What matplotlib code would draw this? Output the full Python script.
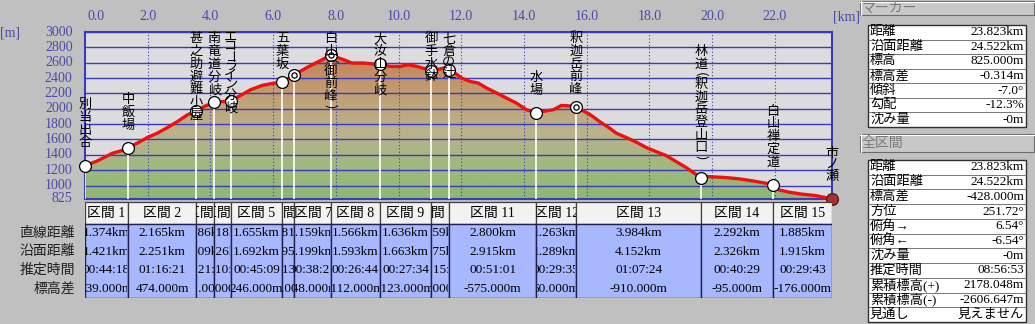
import numpy as np
import matplotlib
matplotlib.use('Agg')
import matplotlib.pyplot as plt
from matplotlib.patches import Rectangle, Polygon
from matplotlib.colors import LinearSegmentedColormap
from matplotlib.transforms import Bbox, TransformedBbox

plt.rcParams['font.family'] = ['Liberation Serif', 'Noto Sans CJK JP', 'DejaVu Sans']

# elevation profile (km, m)
prof_km = [0.00, 0.35, 0.61, 0.88, 1.15, 1.374, 1.73, 1.99, 2.31, 2.63, 2.95, 3.27, 3.539, 3.80,
           4.125, 4.43, 4.643, 4.96, 5.28, 5.65, 5.97, 6.298, 6.679, 7.08, 7.50, 7.838, 8.04, 8.25,
           8.51, 8.88, 9.20, 9.404, 9.73, 10.05, 10.31, 10.58, 10.85, 11.040, 11.22, 11.43, 11.599,
           11.80, 12.01, 12.28, 12.54, 12.81, 13.13, 13.44, 13.76, 14.08, 14.399, 14.72, 14.93,
           15.19, 15.40, 15.662, 15.88, 16.09, 16.41, 16.73, 16.94, 17.26, 17.58, 17.90, 18.21,
           18.53, 18.85, 19.17, 19.43, 19.646, 19.86, 20.44, 20.87, 21.29, 21.71, 21.938, 22.13,
           22.45, 22.87, 23.30, 23.823]
prof_m = [1260, 1313, 1365, 1422, 1452, 1492, 1566, 1626, 1683, 1756, 1834, 1922, 1966, 2030,
          2087, 2095, 2104, 2173, 2248, 2304, 2330, 2348, 2443, 2538, 2626, 2700, 2669, 2639,
          2596, 2596, 2583, 2583, 2552, 2552, 2574, 2552, 2521, 2486, 2508, 2530, 2508,
          2465, 2400, 2356, 2335, 2270, 2205, 2140, 2074, 1987, 1944, 1974, 1987,
          2043, 2039, 2026, 1974, 1930, 1834, 1748, 1683, 1626, 1566, 1495, 1443,
          1391, 1313, 1235, 1161, 1104, 1117, 1104, 1087, 1061, 1031, 1009, 944,
          914, 888, 870, 825]

# sections
seg_direct = [1.374, 2.165, 0.586, 0.518, 1.655, 0.381, 1.159, 1.566, 1.636, 0.559, 2.800, 1.263, 3.984, 2.292, 1.885]
seg_surface = [1.421, 2.251, 0.609, 0.526, 1.692, 0.395, 1.199, 1.593, 1.663, 0.575, 2.915, 1.289, 4.152, 2.326, 1.915]
seg_time = ["00:44:18", "01:16:21", "00:21:10", "00:10:26", "00:45:09", "00:13:37", "00:38:25", "00:26:44",
            "00:27:34", "00:15:30", "00:51:01", "00:29:35", "01:07:24", "00:40:29", "00:29:43"]
seg_elev = [239, 474, 121, 17, 246, 104, 248, -112, -123, 54, -575, 60, -910, -95, -176]
row_names = ["直線距離", "沿面距離", "推定時間", "標高差"]

# waypoints
wp_names = ["別当出合", "中飯場", "甚之助避難小屋", "南竜道分岐", "エコーライン分岐", "五葉坂", "",
            "白山(御前峰)", "大汝山分岐", "御手水鉢", "七倉の辻", "水場", "釈迦岳前峰",
            "林道(釈迦岳登山口)", "白山禅定道", "市ノ瀬"]
wp_m = [1260, 1492, 1966, 2087, 2104, 2348, 2443, 2700, 2583, 2486, 2508, 1944, 2026, 1104, 1009, 825]
wp_kind = ["o", "o", "o", "o", "o", "o", "dc", "dc", "o", "o", "o", "o", "dc", "o", "o", "end"]
wp_km = np.concatenate([[0.0], np.cumsum(seg_direct)])

x_ticks = [0, 2, 4, 6, 8, 10, 12, 14, 16, 18, 20, 22]
y_ticks = [825, 1000, 1200, 1400, 1600, 1800, 2000, 2200, 2400, 2600, 2800, 3000]

marker_rows = [("距離", "23.823km"), ("沿面距離", "24.522km"), ("標高", "825.000m"),
               ("標高差", "-0.314m"), ("傾斜", "-7.0°"), ("勾配", "-12.3%"), ("沈み量", "-0m")]
total_rows = [("距離", "23.823km"), ("沿面距離", "24.522km"), ("標高差", "-428.000m"),
              ("方位", "251.72°"), ("俯角→", "6.54°"), ("俯角←", "-6.54°"), ("沈み量", "-0m"),
              ("推定時間", "08:56:53"), ("累積標高(+)", "2178.048m"), ("累積標高(-)", "-2606.647m"),
              ("見通し", "見えません")]

W, H = 1035, 324
fig = plt.figure(figsize=(W / 100, H / 100), dpi=100)
fig.patch.set_facecolor('#c0c0c0')


def fx(px):
    return px / W


def fy(py):
    return 1 - py / H


total = wp_km[-1]
blue = '#3a3abe'

ax = fig.add_axes([fx(85), fy(199), fx(832) - fx(85), fy(32) - fy(199)])
ax.set_facecolor('#dcdcde')

# gradient fill under the profile
cmap = LinearSegmentedColormap.from_list('ground', [
    (0.0, '#8cb870'), (0.2, '#a2b880'), (0.4, '#bab28e'),
    (0.62, '#c0a074'), (0.82, '#c6865c'), (1.0, '#c87850')])
grad = np.linspace(0, 1, 256).reshape(-1, 1)
im = ax.imshow(grad, extent=[0, total, 825, 3000], origin='lower', aspect='auto', cmap=cmap, zorder=1)
poly = Polygon(list(zip([0] + prof_km + [total], [825] + prof_m + [825])), closed=True,
               facecolor='none', edgecolor='none')
ax.add_patch(poly)
im.set_clip_path(poly)

ax.set_xlim(0, total)
ax.set_ylim(825, 3000)

for e in y_ticks:
    ax.axhline(e, color=blue, lw=1, zorder=2)
for k in x_ticks[1:]:
    ax.axvline(k, color=blue, lw=0.8, ls=(0, (1, 2)), zorder=2)

ax.vlines(wp_km, 825, wp_m, color='white', lw=1.2, zorder=3)
ax.plot(prof_km, prof_m, color='#f01010', lw=2.4, zorder=4, solid_joinstyle='round')

for km, m, kind in zip(wp_km, wp_m, wp_kind):
    if kind == 'end':
        ax.plot(km, m, 'o', ms=8.5, mfc='#a83030', mec='#502020', mew=1, zorder=6, clip_on=False)
    else:
        ax.plot(km, m, 'o', ms=8.5, mfc='white', mec='black', mew=0.9, zorder=5, clip_on=False)
        if kind == 'dc':
            ax.plot(km, m, 'o', ms=3.8, mfc='white', mec='black', mew=0.9, zorder=6, clip_on=False)

ax.set_xticks([])
ax.set_yticks([])
for s in ax.spines.values():
    s.set_color(blue)
    s.set_linewidth(1.5)

tick_color = '#4a4aa8'
for e in y_ticks:
    ax.annotate(str(e), (0, e), xycoords=('axes fraction', 'data'), xytext=(-9, 0),
                textcoords='offset points', ha='right', va='center', fontsize=10,
                color=tick_color, annotation_clip=False)
for k in x_ticks:
    ax.annotate(f"{k:.1f}", (k, 1), xycoords=('data', 'axes fraction'),
                xytext=(2 if k == 0 else 0, 11.5), textcoords='offset points',
                ha='left' if k == 0 else 'center', va='center', fontsize=10,
                color=tick_color, annotation_clip=False)
fig.text(fx(10), fy(33), "[m]", ha='center', va='center', fontsize=10, color=tick_color)
fig.text(fx(846), fy(17), "[km]", ha='center', va='center', fontsize=10, color=tick_color)

# section table
tax = fig.add_axes([fx(85), fy(298), fx(832) - fx(85), fy(201) - fy(298)])
tax.set_xlim(0, total)
tax.set_ylim(97, 0)
tax.axis('off')
head_h = 23
row_h = (97 - head_h) / 4
for j in range(len(seg_direct)):
    x0, x1 = wp_km[j], wp_km[j + 1]
    tax.add_patch(Rectangle((x0, 1), x1 - x0, head_h - 1, facecolor='#f2f2f2',
                            edgecolor='#404040', lw=0.9))
    tax.add_patch(Rectangle((x0, head_h), x1 - x0, 97 - head_h, facecolor='#a8b8ff',
                            edgecolor='#202050', lw=1))
    hclip = TransformedBbox(Bbox([[x0, 1], [x1, head_h]]), tax.transData)
    t = tax.text((x0 + x1) / 2, head_h / 2 + 0.5, f"区間 {j + 1}", ha='center', va='center',
                 fontsize=10)
    t.set_clip_box(hclip)
    t.set_clip_on(True)
    cells = [f"{seg_direct[j]:.3f}km", f"{seg_surface[j]:.3f}km", seg_time[j], f"{seg_elev[j]:.3f}m"]
    dclip = TransformedBbox(Bbox([[x0 + 0.02, head_h], [x1 - 0.02, 97]]), tax.transData)
    for r, txt in enumerate(cells):
        t = tax.text((x0 + x1) / 2, head_h + row_h * (r + 0.5), txt, ha='center', va='center',
                     fontsize=9.5)
        t.set_clip_box(dclip)
        t.set_clip_on(True)

for r, name in enumerate(row_names):
    fig.text(fx(75), fy(201 + head_h + row_h * (r + 0.5)), name, ha='right', va='center',
             fontsize=10, color='#202020')

# right side panel
pax = fig.add_axes([fx(855), 0, 1 - fx(855), 1])
pax.set_xlim(855, 1035)
pax.set_ylim(324, 0)
pax.axis('off')


def group(title, top, head_h, box_top, box_bottom, rows):
    pax.add_patch(Rectangle((860, top), 174, head_h, facecolor='#c8c8c8', edgecolor='#6a6a6a', lw=0.8))
    pax.plot([860, 1034], [top + 0.8, top + 0.8], color='white', lw=0.8)
    pax.plot([860.8, 860.8], [top, top + head_h], color='white', lw=0.8)
    pax.text(862, top + head_h / 2, title, ha='left', va='center', fontsize=10, color='#7a7a7a')
    pax.add_patch(Rectangle((868, box_top), 158, box_bottom - box_top, facecolor='white',
                            edgecolor='#303030', lw=1))
    rh = (box_bottom - box_top) / len(rows)
    for i, (lab, val) in enumerate(rows):
        yc = box_top + rh * (i + 0.5)
        if i > 0:
            pax.plot([868, 1026], [box_top + rh * i] * 2, color='#606060', lw=0.6)
        pax.text(870, yc, lab, ha='left', va='center', fontsize=9.5, color='black')
        pax.text(1024, yc, val, ha='right', va='center', fontsize=9.5, color='black')


group("マーカー", 1, 14, 25, 127, marker_rows)
group("全区間", 134, 18, 160, 322, total_rows)

# vertical waypoint labels
oax = fig.add_axes([0, 0, 1, 1])
oax.set_xlim(0, W)
oax.set_ylim(H, 0)
oax.axis('off')


def pitch(ch):
    if ch in '()':
        return 7.0
    if '\u3040' <= ch <= '\u30ff':
        return 9.5
    return 12.7


for name, km, m in zip(wp_names, wp_km, wp_m):
    if not name:
        continue
    xd, yd = ax.transData.transform((km, m))
    py = H - yd
    col_h = sum(pitch(c) for c in name)
    y = max(32.5, py - 16.5 - col_h)
    for ch in name:
        p = pitch(ch)
        rot = -90 if ch in '()ー' else 0
        oax.text(xd, y + p / 2, ch, ha='center', va='center', rotation=rot, rotation_mode='anchor',
                 fontsize=9.5, family=['Noto Sans CJK JP'], color='black')
        y += p

fig.savefig('out.png', dpi=100, facecolor=fig.get_facecolor())
